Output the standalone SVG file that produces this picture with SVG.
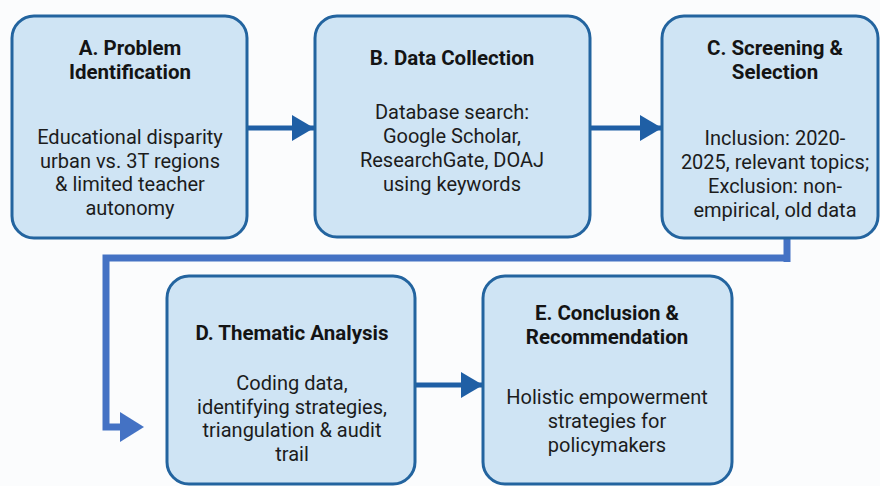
<svg xmlns="http://www.w3.org/2000/svg" width="880" height="486" viewBox="0 0 880 486">
<defs>
<style>
.box{fill:#cfe4f4;stroke:#23649f;stroke-width:3}
.t{font-family:Roboto,"Liberation Sans",sans-serif;font-weight:bold;font-size:20.5px;fill:#141414;text-anchor:middle}
.b{font-family:Roboto,"Liberation Sans",sans-serif;font-size:20px;fill:#1c1c1c;text-anchor:middle}
.c1{stroke:#1f5fa5;stroke-width:5;fill:none}
.c2{stroke:#4472c4;stroke-width:7;fill:none}
</style>
<marker id="ah" markerUnits="userSpaceOnUse" markerWidth="22" markerHeight="26" refX="22" refY="13" orient="auto">
<path d="M0,0 L22,13 L0,26 Z" fill="#1f5fa5"/>
</marker>
</defs>
<rect width="880" height="486" fill="#fbfcfd"/>
<g id="connectors">
<path class="c1" d="M247,128 L314,128" marker-end="url(#ah)"/>
<path class="c1" d="M590,128 L662,128" marker-end="url(#ah)"/>
<path class="c2" d="M787,236 L787,262"/>
<path class="c2" d="M790,258 L106,258 L106,427 L122,427"/>
<path d="M120,412 L144,427 L120,442 Z" fill="#4472c4"/>
<path class="c1" d="M415,385 L483,385" marker-end="url(#ah)"/>
</g>
<g id="A">
<rect class="box" x="12" y="16" width="235" height="222" rx="22"/>
<text class="t" x="130" y="55">A. Problem</text>
<text class="t" x="130" y="79">Identification</text>
<text class="b" x="130" y="144">Educational disparity</text>
<text class="b" x="130" y="168">urban vs. 3T regions</text>
<text class="b" x="130" y="191">&amp; limited teacher</text>
<text class="b" x="130" y="215">autonomy</text>
</g>
<g id="B">
<rect class="box" x="315" y="16" width="275" height="221" rx="22"/>
<text class="t" x="452" y="65">B. Data Collection</text>
<text class="b" x="452" y="119">Database search:</text>
<text class="b" x="452" y="143">Google Scholar,</text>
<text class="b" x="452" y="167">ResearchGate, DOAJ</text>
<text class="b" x="452" y="191">using keywords</text>
</g>
<g id="C">
<rect class="box" x="662" y="16" width="216" height="222" rx="22"/>
<text class="t" x="775" y="55">C. Screening &amp;</text>
<text class="t" x="775" y="79">Selection</text>
<text class="b" x="775" y="145">Inclusion: 2020-</text>
<text class="b" x="775" y="169">2025, relevant topics;</text>
<text class="b" x="775" y="193">Exclusion: non-</text>
<text class="b" x="775" y="217">empirical, old data</text>
</g>
<g id="D">
<rect class="box" x="167" y="276" width="248" height="208" rx="22"/>
<text class="t" x="292" y="340">D. Thematic Analysis</text>
<text class="b" x="292" y="390">Coding data,</text>
<text class="b" x="292" y="414">identifying strategies,</text>
<text class="b" x="292" y="437">triangulation &amp; audit</text>
<text class="b" x="292" y="461">trail</text>
</g>
<g id="E">
<rect class="box" x="483" y="276" width="249" height="208" rx="22"/>
<text class="t" x="607" y="320">E. Conclusion &amp;</text>
<text class="t" x="607" y="344">Recommendation</text>
<text class="b" x="607" y="404">Holistic empowerment</text>
<text class="b" x="607" y="428">strategies for</text>
<text class="b" x="607" y="452">policymakers</text>
</g>
</svg>
